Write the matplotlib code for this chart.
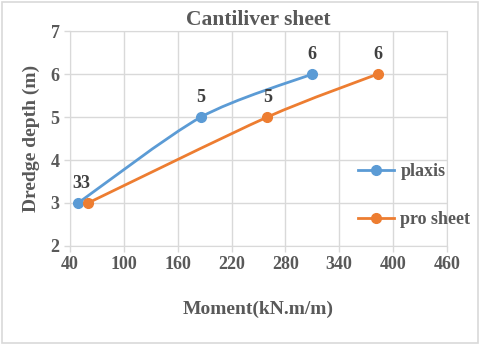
import numpy as np
import matplotlib
matplotlib.use("Agg")
import matplotlib.pyplot as plt
from matplotlib.path import Path
from matplotlib.patches import PathPatch, Rectangle
from matplotlib.lines import Line2D

# values
plaxis_moment = [49, 186, 310]
plaxis_depth = [3, 5, 6]
prosheet_moment = [60, 260, 383]
prosheet_depth = [3, 5, 6]
x_ticks = [40, 100, 160, 220, 280, 340, 400, 460]
y_ticks = [2, 3, 4, 5, 6, 7]

BLUE = "#5B9BD5"
ORANGE = "#ED7D31"
GRAY = "#595959"
GRID = "#d9d9d9"
FONT = "Liberation Serif"


def smooth_path(xs, ys, k=0.14):
    # cardinal-spline bezier through the points (like Excel smoothed line)
    pts = np.column_stack([xs, ys]).astype(float)
    n = len(pts)
    verts = [pts[0]]
    codes = [Path.MOVETO]
    for i in range(n - 1):
        p0 = pts[i - 1] if i > 0 else pts[i]
        p1 = pts[i]
        p2 = pts[i + 1]
        p3 = pts[i + 2] if i + 2 < n else pts[i + 1]
        c1 = p1 + (p2 - p0) * k
        c2 = p2 - (p3 - p1) * k
        verts += [c1, c2, p2]
        codes += [Path.CURVE4] * 3
    return Path(verts, codes)


fig = plt.figure(figsize=(4.8, 3.45), dpi=100)
fig.patches.append(Rectangle((0.004, 0.006), 0.992, 0.988, transform=fig.transFigure,
                             fill=False, edgecolor=GRID, linewidth=1.2))
ax = fig.add_axes([0.146, 0.287, 0.785, 0.623])

for xs, ys, c in [(plaxis_moment, plaxis_depth, BLUE),
                  (prosheet_moment, prosheet_depth, ORANGE)]:
    ax.add_patch(PathPatch(smooth_path(xs, ys), facecolor="none", edgecolor=c,
                           linewidth=2, zorder=3))
    ax.plot(xs, ys, "o", color=c, markersize=7, zorder=4)

# data labels
lab = dict(ha="center", va="bottom", fontsize=13, fontweight="bold",
           color="#404040", family=FONT, textcoords="offset points")
for x, y in zip(plaxis_moment[1:], plaxis_depth[1:]):
    ax.annotate(str(y), (x, y), xytext=(0, 8), **lab)
for x, y in zip(prosheet_moment[1:], prosheet_depth[1:]):
    ax.annotate(str(y), (x, y), xytext=(0, 8), **lab)
ax.annotate("%d%d" % (plaxis_depth[0], prosheet_depth[0]),
            (plaxis_moment[0], plaxis_depth[0]), xytext=(2, 8), **lab)

ax.set_xlim(40, 460)
ax.set_ylim(2, 7)
ax.set_xticks(x_ticks)
ax.set_yticks(y_ticks)
ax.grid(True, color=GRID, linewidth=1)
ax.set_axisbelow(True)
for s in ax.spines.values():
    s.set_color(GRID)
ax.tick_params(colors=GRID, length=4, width=1, labelcolor=GRAY, labelsize=13)
for t in ax.get_xticklabels() + ax.get_yticklabels():
    t.set_fontfamily(FONT)
    t.set_fontweight("bold")

ax.set_title("Cantiliver sheet", fontsize=15.5, fontweight="bold", color=GRAY,
             family=FONT, pad=4)
ax.set_xlabel("Moment(kN.m/m)", fontsize=14, fontweight="bold", color=GRAY,
              family=FONT, labelpad=20)
ax.set_ylabel("Dredge depth (m)", fontsize=14, fontweight="bold", color=GRAY,
              family=FONT, labelpad=8)

handles = [Line2D([], [], color=BLUE, marker="o", markersize=7, linewidth=2),
           Line2D([], [], color=ORANGE, marker="o", markersize=7, linewidth=2)]
leg = fig.legend(handles, ["plaxis", "pro sheet"], loc="upper left",
                 bbox_to_anchor=(0.712, 0.575), frameon=False,
                 prop={"family": FONT, "weight": "bold", "size": 13},
                 labelspacing=1.75, handlelength=2.0, handletextpad=0.35)
for t in leg.get_texts():
    t.set_color(GRAY)

fig.savefig("out.png", dpi=100)
